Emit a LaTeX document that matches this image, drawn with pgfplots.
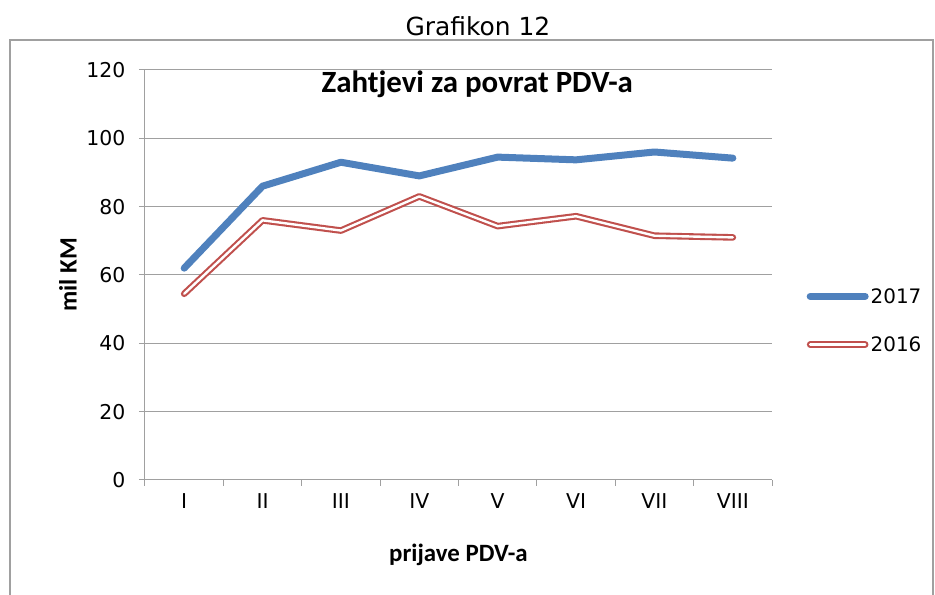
\documentclass[border=0pt]{standalone}
\usepackage{fontspec}
\setmainfont{DejaVu Sans}
\newfontfamily\carlito{Carlito}
\usepackage{pgfplots}
\pgfplotsset{compat=1.18}
\definecolor{c2017}{HTML}{4F81BD}
\definecolor{c2016}{HTML}{C0504D}
\definecolor{gridc}{HTML}{A0A0A0}
\begin{document}
\begin{tikzpicture}[x=1bp,y=1bp]
\useasboundingbox (-145,-115) rectangle (790,480);
\draw[gridc, line width=1.5bp] (-135,-120) -- (-135,440) -- (788,440) -- (788,-120);
\node[font=\fontsize{25}{28}\selectfont] at (333,454) {Grafikon 12};
\begin{axis}[
    at={(0,0)}, anchor=south west,
    scale only axis, width=627bp, height=410bp,
    xmin=0.5, xmax=8.5, ymin=0, ymax=120,
    ytick={0,20,...,120},
    xtick={1,...,8},
    xticklabels={I,II,III,IV,V,VI,VII,VIII},
    minor xtick={0.5,1.5,...,8.5},
    axis lines=left,
    axis line style={gridc, line width=1bp, -},
    ymajorgrids,
    grid style={gridc, line width=1bp},
    tick align=outside,
    major tick length=6bp,
    minor tick length=6bp,
    xtick style={draw=none},
    minor x tick style={draw=gridc, line width=1bp},
    ytick style={draw=gridc, line width=1bp},
    ticklabel style={font=\fontsize{20.5}{22}\selectfont, text=black},
    yticklabel style={xshift=-10bp},
    xticklabel style={yshift=-4bp},
    /pgf/number format/assume math mode=true,
    xlabel={\carlito\bfseries prijave PDV-a},
    ylabel={\carlito\bfseries mil KM},
    every axis x label/.style={at={(axis description cs:0.5,0)}, yshift=-75bp, anchor=center, font=\fontsize{25}{28}\selectfont},
    every axis y label/.style={at={(axis description cs:0,0.5)}, xshift=-77bp, rotate=90, anchor=center, font=\fontsize{25}{28}\selectfont},
    legend style={draw=none, fill=none, at={(1.055,0.389)}, anchor=west,
        font=\fontsize{20}{22}\selectfont, row sep=28bp, inner sep=0pt},
    legend cell align=left,
    legend image code/.code={\draw[#1] (0bp,0bp) -- (55bp,0bp);},
    clip=false,
]
\addplot[c2017, line width=7bp, line join=round, line cap=round]
  coordinates {(1,62) (2,86) (3,93) (4,89) (5,94.5) (6,93.7) (7,96) (8,94.2)};
\addlegendentry{2017}
\addplot[c2016, line width=2.1bp, double=white, double distance=2.4bp, line join=round, line cap=round]
  coordinates {(1,54.5) (2,76) (3,73) (4,83) (5,74.3) (6,77.2) (7,71.5) (8,71)};
\addlegendentry{2016}
\node[font=\carlito\bfseries\fontsize{31}{34}\selectfont] at (axis description cs:0.53,0.965) {Zahtjevi za povrat PDV-a};
\end{axis}
\end{tikzpicture}
\end{document}
